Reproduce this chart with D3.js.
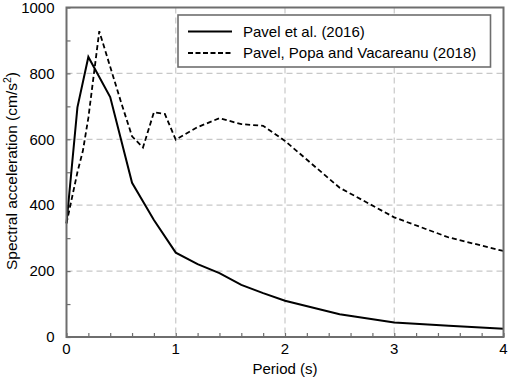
<!DOCTYPE html>
<html><head><meta charset="utf-8">
<script src="https://cdn.jsdelivr.net/npm/d3@7"></script>
<style>body{margin:0;background:#fff}svg{display:block}text{font-family:"Liberation Sans",Arial,sans-serif;fill:#000}</style>
</head><body><svg id="c" width="510" height="380"></svg>
<script>
const periods2016 = [0, 0.1, 0.2, 0.4, 0.6, 0.8, 1.0, 1.2, 1.4, 1.6, 1.8, 2.0, 2.5, 3.0, 3.5, 4.0];
const sa2016 = [345, 697, 850, 728, 468, 355, 256, 221, 194, 158, 133, 110, 69, 44, 34, 25];
const periods2018 = [0, 0.1, 0.15, 0.2, 0.3, 0.4, 0.5, 0.6, 0.7, 0.8, 0.9, 1.0, 1.2, 1.4, 1.6, 1.8, 2.0, 2.5, 3.0, 3.5, 4.0];
const sa2018 = [345, 500, 565, 665, 928, 820, 712, 609, 575, 682, 677, 599, 637, 664, 646, 641, 595, 453, 363, 302, 261];
const seriesNames = ["Pavel et al. (2016)", "Pavel, Popa and Vacareanu (2018)"];
const xTicks = [0, 1, 2, 3, 4];
const yTicks = [0, 200, 400, 600, 800, 1000];
const xLabel = "Period (s)";

const svg = d3.select("#c");
const L = 66.5, R = 503.5, T = 7.5, B = 337;
const x = d3.scaleLinear().domain([0, 4]).range([L, R]);
const y = d3.scaleLinear().domain([0, 1000]).range([B, T]);
const gridCol = "#c8c8c8", frameCol = "#6e6e6e";
const fs = 15;

// grid
svg.append("g").selectAll("line").data(xTicks.filter(d => d > 0 && d < 4)).join("line")
  .attr("x1", d => x(d)).attr("x2", d => x(d)).attr("y1", T).attr("y2", B)
  .attr("stroke", gridCol).attr("stroke-width", 1.2).attr("stroke-dasharray", "6,4");
svg.append("g").selectAll("line").data(yTicks.filter(d => d > 0 && d < 1000)).join("line")
  .attr("x1", L).attr("x2", R).attr("y1", d => y(d)).attr("y2", d => y(d))
  .attr("stroke", gridCol).attr("stroke-width", 1.2).attr("stroke-dasharray", "6,4");

// axes with inward ticks
const xAx = d3.axisBottom(x).tickValues(d3.range(0, 4.01, 0.2)).tickSize(-4).tickFormat("");
const gx = svg.append("g").attr("transform", `translate(0,${B})`).call(xAx);
gx.select(".domain").remove();
gx.selectAll("line").attr("stroke", frameCol).attr("stroke-width", 1.2);
const yAx = d3.axisLeft(y).tickValues(d3.range(0, 1001, 100)).tickSize(-4).tickFormat("");
const gy = svg.append("g").attr("transform", `translate(${L},0)`).call(yAx);
gy.select(".domain").remove();
gy.selectAll("line").attr("stroke", frameCol).attr("stroke-width", 1.2);

// tick labels
svg.append("g").selectAll("text").data(xTicks).join("text")
  .attr("x", d => x(d)).attr("y", 354).attr("text-anchor", "middle")
  .attr("font-size", fs).text(d => d);
svg.append("g").selectAll("text").data(yTicks).join("text")
  .attr("x", 54.5).attr("y", d => y(d) + 5.2).attr("text-anchor", "end")
  .attr("font-size", fs).text(d => d);

// lines
const line = d3.line().x(d => x(d[0])).y(d => y(d[1]));
svg.append("path").datum(periods2016.map((p, i) => [p, sa2016[i]]))
  .attr("d", line).attr("fill", "none").attr("stroke", "#000").attr("stroke-width", 2);
svg.append("path").datum(periods2018.map((p, i) => [p, sa2018[i]]))
  .attr("d", line).attr("fill", "none").attr("stroke", "#000").attr("stroke-width", 1.8)
  .attr("stroke-dasharray", "5,3");

// frame
svg.append("rect").attr("x", L).attr("y", T).attr("width", R - L).attr("height", B - T)
  .attr("fill", "none").attr("stroke", frameCol).attr("stroke-width", 2);

// legend
const lg = svg.append("g");
lg.append("rect").attr("x", 178).attr("y", 15).attr("width", 312.5).attr("height", 52)
  .attr("fill", "#fff").attr("stroke", frameCol).attr("stroke-width", 1.6);
const rows = [{y: 31.5, dash: null}, {y: 53, dash: "5,2.5"}];
rows.forEach((r, i) => {
  lg.append("line").attr("x1", 188).attr("x2", 232).attr("y1", r.y).attr("y2", r.y)
    .attr("stroke", "#000").attr("stroke-width", i === 0 ? 2 : 1.8)
    .attr("stroke-dasharray", r.dash);
  lg.append("text").attr("x", 243).attr("y", r.y + 5.3).attr("font-size", fs).text(seriesNames[i]);
});

// axis titles
svg.append("text").attr("x", x(2)).attr("y", 373.5).attr("text-anchor", "middle")
  .attr("font-size", fs).text(xLabel);
const yt = svg.append("text").attr("transform", `translate(16.5,171) rotate(-90)`)
  .attr("text-anchor", "middle").attr("font-size", 15.5);
yt.append("tspan").text("Spectral acceleration (cm/s");
yt.append("tspan").attr("font-size", 10.5).attr("dy", -6).text("2");
yt.append("tspan").attr("dy", 6).text(")");
</script></body></html>
